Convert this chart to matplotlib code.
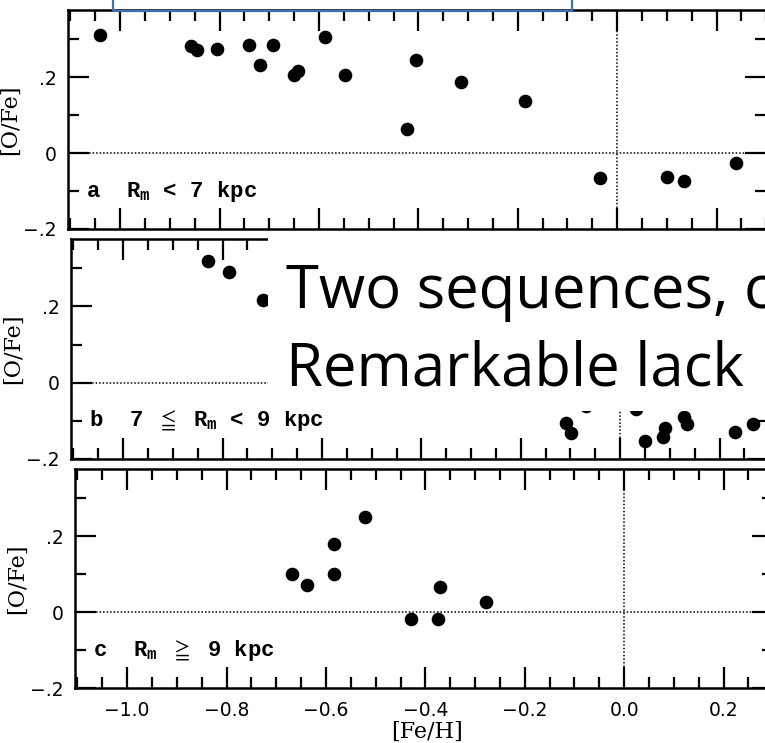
import matplotlib
matplotlib.use("Agg")
import matplotlib.pyplot as plt
from matplotlib.patches import Rectangle
from matplotlib.ticker import MultipleLocator

plt.rcParams['mathtext.fontset'] = 'custom'
plt.rcParams['mathtext.rm'] = 'Liberation Mono:bold'
plt.rcParams['mathtext.fallback'] = 'stix'

# [Fe/H] and [O/Fe] per galactocentric distance bin
a_feh = [-1.040, -0.858, -0.846, -0.805, -0.741, -0.718, -0.692, -0.650, -0.643,
         -0.587, -0.548, -0.405, -0.315, -0.423, -0.186, -0.035, 0.101, 0.135, 0.240]
a_ofe = [0.311, 0.283, 0.271, 0.273, 0.284, 0.233, 0.285, 0.205, 0.216,
         0.305, 0.205, 0.245, 0.186, 0.063, 0.137, -0.065, -0.063, -0.074, -0.025]

b_feh = [-0.830, -0.787, -0.718, -0.109, -0.098, -0.068, 0.032, 0.050, 0.091,
         0.087, 0.128, 0.134, 0.232, 0.267]
b_ofe = [0.320, 0.290, 0.218, -0.105, -0.133, -0.060, -0.068, -0.153, -0.120,
         -0.142, -0.089, -0.107, -0.129, -0.109]

c_feh = [-0.668, -0.638, -0.583, -0.583, -0.521, -0.429, -0.374, -0.370, -0.278]
c_ofe = [0.100, 0.071, 0.100, 0.180, 0.250, -0.018, -0.018, 0.065, 0.026]

panel_labels = [r"a  R$_{\mathrm{m}}$ < 7 kpc",
                r"b  7 $\leqq$ R$_{\mathrm{m}}$ < 9 kpc",
                r"c  R$_{\mathrm{m}}$ $\geqq$ 9 kpc"]
y_ticks = [-0.2, 0.0, 0.2]
y_ticklabels = ["\u2212.2", "0", ".2"]
x_ticks = [-1.0, -0.8, -0.6, -0.4, -0.2, 0.0, 0.2]
x_ticklabels = ["\u22121.0", "\u22120.8", "\u22120.6", "\u22120.4", "\u22120.2", "0.0", "0.2"]
note_lines = ["Two sequences, c", "Remarkable lack"]

W, H = 765, 743
fig = plt.figure(figsize=(W / 100, H / 100), dpi=100)

# panel boxes in pixels: left, top, bottom
boxes = [(68, 10, 229), (71, 239, 459), (75, 469, 688)]
XMIN, XMAX = -1.105, 0.30
YMIN, YMAX = -0.2, 0.377
px_per_unit = 497.0
width_px = (XMAX - XMIN) * px_per_unit

datasets = [(a_feh, a_ofe), (b_feh, b_ofe), (c_feh, c_ofe)]
axes = []
for i, ((left, top, bottom), (xs, ys), lab) in enumerate(zip(boxes, datasets, panel_labels)):
    ax = fig.add_axes([left / W, 1 - bottom / H, width_px / W, (bottom - top) / H])
    axes.append(ax)
    ax.set_xlim(XMIN, XMAX)
    ax.set_ylim(YMIN, YMAX)
    ax.axhline(0, color='black', lw=1.1, ls=(0, (1, 1.3)), zorder=1)
    ax.axvline(0, color='black', lw=1.1, ls=(0, (1, 1.3)), zorder=1)
    ax.plot(xs, ys, 'o', color='black', ms=8.8, mec='black', zorder=3)
    ax.xaxis.set_major_locator(MultipleLocator(0.2))
    ax.xaxis.set_minor_locator(MultipleLocator(0.05))
    ax.yaxis.set_minor_locator(MultipleLocator(0.1))
    ax.set_yticks(y_ticks)
    ax.set_yticklabels(y_ticklabels, fontfamily='DejaVu Sans', fontsize=13.5)
    ax.tick_params(which='both', direction='in', top=True, right=True, width=1.6)
    ax.tick_params(which='major', length=15, pad=8)
    ax.tick_params(which='minor', length=8)
    if i < 2:
        ax.tick_params(axis='x', labelbottom=False)
    else:
        ax.set_xticks(x_ticks)
        ax.set_xticklabels(x_ticklabels, fontfamily='DejaVu Sans', fontsize=13.5)
        ax.tick_params(axis='x', which='major', pad=9)
    for sp in ax.spines.values():
        sp.set_linewidth(1.8)
    ax.set_ylabel("[O/Fe]", fontfamily='DejaVu Serif', fontsize=16)
    ax.yaxis.set_label_coords(-0.067, 0.5)
    ax.text(-1.068, -0.1, lab, fontfamily='Liberation Mono', fontweight='bold',
            fontsize=16, va='center', ha='left')

fig.text(427 / W, 1 - 732 / H, "[Fe/H]", fontfamily='DejaVu Serif', fontsize=16,
         ha='center', va='center')

# white note box with the two-line remark
fig.add_artist(Rectangle((268 / W, 1 - 411 / H), 500 / W, 175 / H,
                         transform=fig.transFigure, facecolor='white',
                         edgecolor='none', zorder=10))
fig.text(286 / W, 1 - 308 / H, note_lines[0], fontfamily='Open Sans', fontsize=43,
         ha='left', va='baseline', zorder=11)
fig.text(286 / W, 1 - 385 / H, note_lines[1], fontfamily='Open Sans', fontsize=43,
         ha='left', va='baseline', zorder=11)

# blue frame running off the top edge
fig.add_artist(Rectangle((113 / W, 1 - 11 / H), (572 - 113) / W, 0.2,
                         transform=fig.transFigure, facecolor='none',
                         edgecolor='#3c71b7', lw=1.6, zorder=12, clip_on=False))

fig.savefig("out.png", dpi=100)
